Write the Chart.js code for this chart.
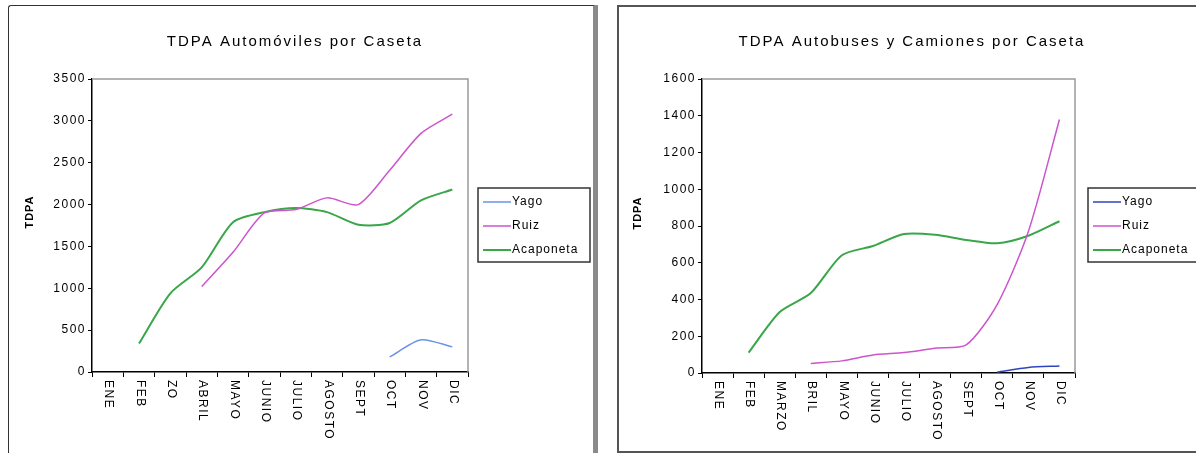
<!DOCTYPE html>
<html>
<head>
<meta charset="utf-8">
<script src="https://cdn.jsdelivr.net/npm/chart.js@4.4.0/dist/chart.umd.min.js"></script>
<style>
  body { margin: 0; background: #fff; width: 1196px; height: 453px; overflow: hidden; position: relative; }
  .frame { position: absolute; box-sizing: border-box; }
  #f1 { left: 8px; top: 5px; width: 590px; height: 455px; border: 1.5px solid #333; border-right: 5px solid #8a8a8a; border-radius: 3px 0 0 0; }
  #f2 { left: 617px; top: 5px; width: 620px; height: 448px; border: 2px solid #555; }
  .box { position: absolute; }
  #b1 { left: 9px; top: 6px; width: 582px; height: 444px; }
  #b2 { left: 619px; top: 7px; width: 577px; height: 444px; }
</style>
</head>
<body>
<div class="frame" id="f1"></div>
<div class="frame" id="f2"></div>
<div class="box" id="b1"><canvas id="autos"></canvas></div>
<div class="box" id="b2"><canvas id="camiones"></canvas></div>
<script>
// Meses (tal como aparecen en cada gráfica)
const mesesAutos = ['ENE', 'FEB', 'ZO', 'ABRIL', 'MAYO', 'JUNIO', 'JULIO', 'AGOSTO', 'SEPT', 'OCT', 'NOV', 'DIC'];
const mesesCamiones = ['ENE', 'FEB', 'MARZO', 'BRIL', 'MAYO', 'JUNIO', 'JULIO', 'AGOSTO', 'SEPT', 'OCT', 'NOV', 'DIC'];
const casetas = ['Yago', 'Ruiz', 'Acaponeta'];

// TDPA automóviles
const autosYago = [null, null, null, null, null, null, null, null, null, 180, 385, 300];
const autosRuiz = [null, null, null, 1020, 1430, 1900, 1940, 2080, 2000, 2410, 2850, 3080];
const autosAcaponeta = [null, 340, 940, 1250, 1790, 1910, 1960, 1910, 1760, 1780, 2050, 2180];

// TDPA autobuses y camiones
const camionesYago = [null, null, null, null, null, null, null, null, null, 5, 30, 38];
const camionesRuiz = [null, null, null, 52, 66, 98, 111, 135, 153, 374, 770, 1380];
const camionesAcaponeta = [null, 111, 332, 435, 641, 691, 756, 752, 724, 706, 747, 826];

const FONT = '"Liberation Sans", Arial, sans-serif';

// Marco, título, etiquetas verticales y leyenda con recuadro
const decor = {
  id: 'decor',
  beforeDraw(chart) {
    chart.ctx.letterSpacing = '1.5px';
  },
  beforeDatasetsDraw(chart) {
    const a = chart.chartArea, ctx = chart.ctx;
    ctx.save();
    ctx.strokeStyle = '#9a9a9a';
    ctx.lineWidth = 1.5;
    ctx.beginPath();
    ctx.moveTo(a.left, a.top);
    ctx.lineTo(a.right, a.top);
    ctx.lineTo(a.right, a.bottom);
    ctx.stroke();
    ctx.restore();
  },
  afterDraw(chart, args, opts) {
    const ctx = chart.ctx;
    const a = chart.chartArea;
    ctx.save();
    ctx.fillStyle = '#000';

    // título
    ctx.font = '15px ' + FONT;
    ctx.letterSpacing = '2px';
    ctx.textAlign = 'center';
    ctx.textBaseline = 'middle';
    ctx.fillText(opts.title, opts.titleX, opts.titleY);

    // título eje Y
    ctx.font = 'bold 11px ' + FONT;
    ctx.letterSpacing = '1px';
    ctx.save();
    ctx.translate(opts.yTitleX, opts.yTitleY);
    ctx.rotate(-Math.PI / 2);
    ctx.fillText('TDPA', 0, 0);
    ctx.restore();

    // etiquetas del eje X (giradas hacia abajo)
    const xs = chart.scales.x;
    ctx.font = '12px ' + FONT;
    ctx.letterSpacing = '1.5px';
    ctx.textAlign = 'left';
    chart.data.labels.forEach((lab, i) => {
      ctx.save();
      ctx.translate(xs.getPixelForValue(i) + 1, a.bottom + 8);
      ctx.rotate(Math.PI / 2);
      ctx.fillText(lab, 0, 0);
      ctx.restore();
    });

    // leyenda
    const [lx, ly, lw, lh] = opts.legend;
    ctx.strokeStyle = '#333';
    ctx.lineWidth = 1.5;
    ctx.strokeRect(lx, ly, lw, lh);
    ctx.font = '12px ' + FONT;
    ctx.letterSpacing = '1px';
    ctx.textAlign = 'left';
    chart.data.datasets.forEach((ds, i) => {
      const y = ly + 14 + i * 24;
      ctx.strokeStyle = ds.borderColor;
      ctx.lineWidth = ds.borderWidth;
      ctx.beginPath();
      ctx.moveTo(lx + 5, y);
      ctx.lineTo(lx + 33, y);
      ctx.stroke();
      ctx.fillStyle = '#000';
      ctx.fillText(ds.label, lx + 34, y);
    });
    ctx.restore();
  }
};

function makeChart(id, labels, series, colors, yMax, yStep, deco) {
  const ctx = document.getElementById(id).getContext('2d');
  return new Chart(ctx, {
    type: 'line',
    data: {
      labels: labels,
      datasets: series.map((s, i) => ({
        label: casetas[i],
        data: s,
        borderColor: colors[i],
        borderWidth: i === 2 ? 2 : 1.5,
        pointRadius: 0,
        tension: 0.25,
        fill: false,
        spanGaps: false
      }))
    },
    options: {
      responsive: true,
      maintainAspectRatio: false,
      animation: false,
      layout: { padding: deco.padding },
      plugins: {
        legend: { display: false },
        title: { display: false },
        tooltip: { enabled: false },
        decor: deco
      },
      scales: {
        x: {
          offset: true,
          afterFit: s => { s.height = deco.xHeight; },
          grid: { offset: true, drawOnChartArea: false, tickLength: 5, color: '#000', lineWidth: 1 },
          border: { color: '#000', width: 1.5 },
          ticks: { display: false }
        },
        y: {
          min: 0,
          max: yMax,
          afterFit: s => { s.width = 83; },
          grid: { drawOnChartArea: false, tickLength: 4, color: '#000', lineWidth: 1 },
          border: { color: '#000', width: 1.5 },
          ticks: {
            stepSize: yStep,
            padding: 2,
            color: '#000',
            font: { family: FONT, size: 12 },
            callback: v => String(v)
          }
        }
      }
    },
    plugins: [decor]
  });
}

makeChart('autos', mesesAutos,
  [autosYago, autosRuiz, autosAcaponeta],
  ['#6b93ea', '#cc55cc', '#3aa64a'],
  3500, 500,
  {
    title: 'TDPA Automóviles por Caseta',
    titleX: 286, titleY: 36,
    yTitleX: 21, yTitleY: 206,
    legend: [469, 182, 112, 74],
    padding: { top: 73, right: 123, bottom: 0, left: 0 },
    xHeight: 78
  });

makeChart('camiones', mesesCamiones,
  [camionesYago, camionesRuiz, camionesAcaponeta],
  ['#2f45c0', '#cc55cc', '#3aa64a'],
  1600, 200,
  {
    title: 'TDPA Autobuses y Camiones por Caseta',
    titleX: 293, titleY: 35,
    yTitleX: 19, yTitleY: 206,
    legend: [469, 181, 112, 74],
    padding: { top: 72, right: 121, bottom: 0, left: 0 },
    xHeight: 78
  });
</script>
</body>
</html>
